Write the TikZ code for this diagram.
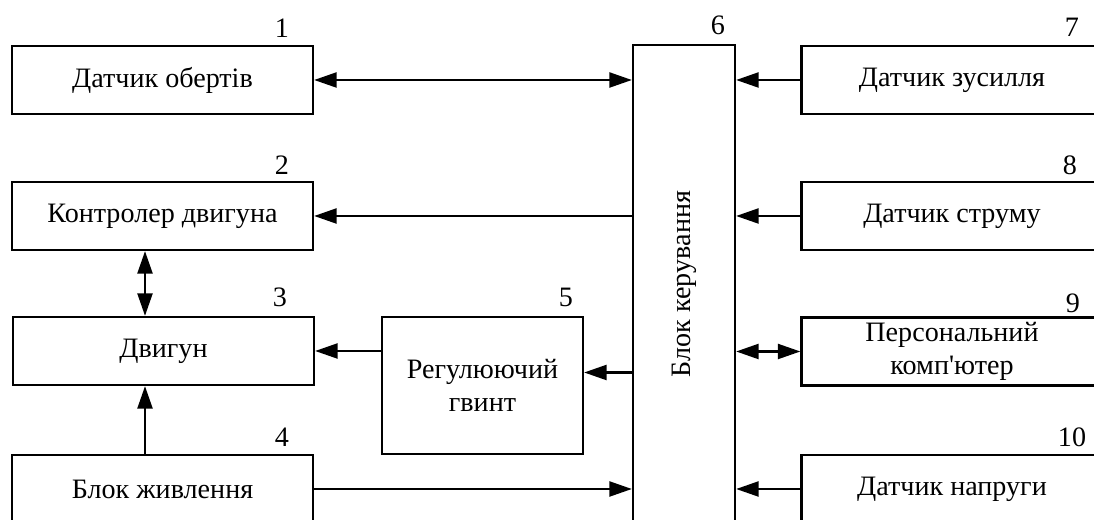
\documentclass[tikz,border=0pt]{standalone}
\usepackage{fontspec}
\setmainfont{Liberation Serif}
\newfontfamily\prostyi{Liberation Serif}
\usetikzlibrary{arrows.meta}

\tikzset{
    blok/.style={draw, line width=1.3pt, minimum width=6.02cm, minimum height=1.36cm,
        inner sep=0pt, align=center, font=\fontsize{16}{19}\selectfont},
    nomer/.style={font=\fontsize{16}{19}\selectfont, inner sep=0pt},
    arr/.style={line width=1.3pt, -{Triangle[length=0.45cm, width=0.3cm]}},
    darr/.style={line width=1.3pt, {Triangle[length=0.45cm, width=0.3cm]}-{Triangle[length=0.45cm, width=0.3cm]}}
}

\begin{document}
\begin{tikzpicture}
    \useasboundingbox (0,0) rectangle (21.88,10.4);

    % Left column
    \node[blok] (b1) at (3.25,8.8) {Датчик обертів};
    \node[blok] (b2) at (3.25,6.08) {Контролер двигуна};
    \node[blok] (b3) at (3.27,3.38) {Двигун};
    \node[blok] (b4) at (3.25,0.62) {Блок живлення};

    % Adjusting screw
    \node[blok, minimum width=4.02cm, minimum height=2.74cm] (b5) at (9.65,2.69) {Регулюючий\\гвинт};

    % Control unit
    \node[blok, minimum width=2.04cm, minimum height=9.56cm] (b6) at (13.68,4.72) {};
    \node[nomer, rotate=90] (t6) at (b6.center) {Блок керування};

    % Right column
    \node[blok] (b7) at (19.04,8.8) {Датчик зусилля};
    \node[blok] (b8) at (19.04,6.08) {Датчик струму};
    \node[blok] (b9) at (19.04,3.37) {Персональний\\комп{\prostyi'}ютер};
    \node[blok] (b10) at (19.04,0.62) {Датчик напруги};

    % Numbers
    \node[nomer] (n1) at (5.64,9.84) {1};
    \node[nomer] (n2) at (5.64,7.10) {2};
    \node[nomer] (n3) at (5.60,4.46) {3};
    \node[nomer] (n4) at (5.64,1.66) {4};
    \node[nomer] (n5) at (11.32,4.46) {5};
    \node[nomer] (n6) at (14.36,9.90) {6};
    \node[nomer] (n7) at (21.44,9.86) {7};
    \node[nomer] (n8) at (21.40,7.10) {8};
    \node[nomer] (n9) at (21.46,4.34) {9};
    \node[nomer] (n10) at (21.44,1.66) {10};

    % Connections, left side
    \coordinate (c65) at (0,2.95);
    \coordinate (cx) at (2.9,0);
    \draw[darr] (b1.east) -- (b1.east -| b6.west);
    \draw[arr] (b2.east -| b6.west) -- (b2.east);
    \draw[darr] (b2.south -| cx) -- (b3.north -| cx);
    \draw[arr] (b4.north -| cx) -- (b3.south -| cx);
    \draw[arr] (b5.west |- b3.east) -- (b3.east);
    \draw[arr] (b6.west |- c65) -- (b5.east |- c65);
    \draw[arr] (b4.east) -- (b4.east -| b6.west);

    % Connections, right side
    \draw[arr] (b7.west) -- (b7.west -| b6.east);
    \draw[arr] (b8.west) -- (b8.west -| b6.east);
    \draw[darr] (b9.west) -- (b9.west -| b6.east);
    \draw[arr] (b10.west) -- (b10.west -| b6.east);
\end{tikzpicture}
\end{document}
